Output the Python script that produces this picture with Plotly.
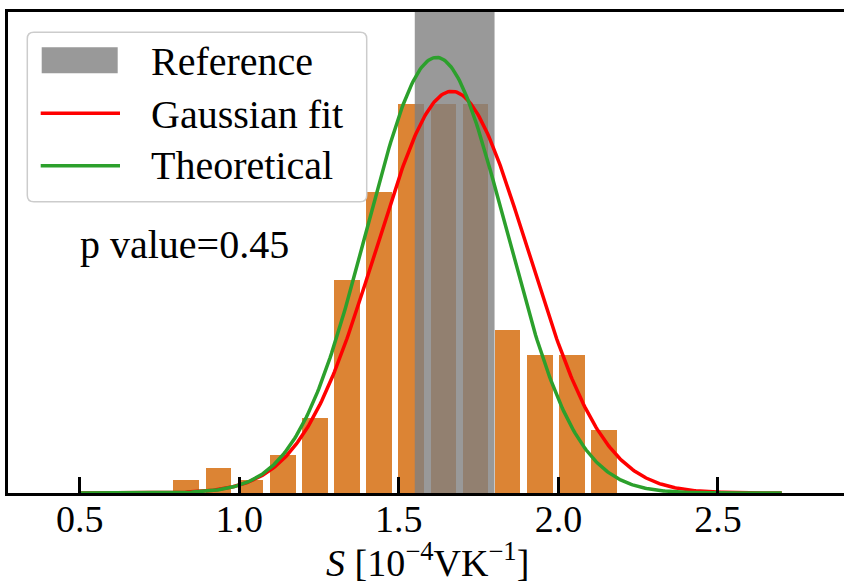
import numpy as np
import plotly.graph_objects as go

# ---- data ----
bin_centers = [0.834, 0.935, 1.035, 1.136, 1.237, 1.338, 1.438, 1.539,
               1.640, 1.740, 1.841, 1.942, 2.042, 2.143]
counts = [1, 2, 1, 3, 6, 17, 24, 31, 31, 31, 13, 11, 11, 5]
bin_width = 0.1007

ref_lo, ref_hi = 1.55, 1.80          # reference band

fit_mu, fit_sigma, fit_amp = 1.666, 0.2375, 32.0     # Gaussian fit
th_mu, th_sigma, th_amp = 1.618, 0.218, 34.7          # Theoretical
curve_lo, curve_hi = 0.5, 2.7

tick_vals = [0.5, 1.0, 1.5, 2.0, 2.5]
tick_text = ["0.5", "1.0", "1.5", "2.0", "2.5"]
p_text = "p value=0.45"
x_title = "<i>S</i> [10<sup>−4</sup>VK<sup>−1</sup>]"

x_range = [0.2754, 2.895]
y_max = 38.32

W, H = 844, 586
ML, MR, MT, MB = 8, 0, 12, 93
PW, PH = W - ML - MR, H - MT - MB

FONT = "Liberation Serif, Times New Roman, serif"
FS = 40
LW = 3.5


def px(x):
    return (x - ML) / PW


def py(y):
    return (H - MB - y) / PH


xs = np.linspace(curve_lo, curve_hi, 500)
fit_y = fit_amp * np.exp(-0.5 * ((xs - fit_mu) / fit_sigma) ** 2)
th_y = th_amp * np.exp(-0.5 * ((xs - th_mu) / th_sigma) ** 2)

fig = go.Figure()
fig.add_trace(go.Bar(x=bin_centers, y=counts, width=bin_width * 0.8,
                     marker=dict(color="#dc8434", line=dict(width=0)),
                     name="Data", showlegend=False))
fig.add_trace(go.Scatter(x=[ref_lo, ref_hi, ref_hi, ref_lo, ref_lo],
                         y=[0, 0, y_max, y_max, 0], mode="lines",
                         fill="toself", fillcolor="rgba(128,128,128,0.8)",
                         line=dict(width=0), name="Reference", showlegend=False))
fig.add_trace(go.Scatter(x=xs, y=fit_y, mode="lines",
                         line=dict(color="#ff0000", width=LW),
                         name="Gaussian fit", showlegend=False))
fig.add_trace(go.Scatter(x=xs, y=th_y, mode="lines",
                         line=dict(color="#2ca02c", width=LW),
                         name="Theoretical", showlegend=False))

# ---- legend drawn by hand (matplotlib look) ----
bx0, bx1, by0, by1, r = 27.3, 366.7, 32.3, 201.7, 6.5
path = (f"M {px(bx0 + r)},{py(by0)} L {px(bx1 - r)},{py(by0)} "
        f"Q {px(bx1)},{py(by0)} {px(bx1)},{py(by0 + r)} "
        f"L {px(bx1)},{py(by1 - r)} "
        f"Q {px(bx1)},{py(by1)} {px(bx1 - r)},{py(by1)} "
        f"L {px(bx0 + r)},{py(by1)} "
        f"Q {px(bx0)},{py(by1)} {px(bx0)},{py(by1 - r)} "
        f"L {px(bx0)},{py(by0 + r)} "
        f"Q {px(bx0)},{py(by0)} {px(bx0 + r)},{py(by0)} Z")
shapes = [
    dict(type="path", xref="paper", yref="paper", path=path,
         fillcolor="rgba(255,255,255,0.8)", line=dict(color="#cccccc", width=1.5),
         layer="above"),
    dict(type="rect", xref="paper", yref="paper", x0=px(41.7), x1=px(117.7),
         y0=py(73.3), y1=py(47.3), fillcolor="rgba(128,128,128,0.8)",
         line=dict(width=0), layer="above"),
    dict(type="line", xref="paper", yref="paper", x0=px(40.7), x1=px(120),
         y0=py(113.3), y1=py(113.3), line=dict(color="#ff0000", width=LW),
         layer="above"),
    dict(type="line", xref="paper", yref="paper", x0=px(40.7), x1=px(120),
         y0=py(165.7), y1=py(165.7), line=dict(color="#2ca02c", width=LW),
         layer="above"),
]

legend_labels = ["Reference", "Gaussian fit", "Theoretical"]
legend_base = [74.0, 127.3, 178.3]
annotations = []
for lab, b in zip(legend_labels, legend_base):
    annotations.append(dict(text=lab, xref="paper", yref="paper",
                            x=px(148.5), y=py(b - 12.5), xanchor="left",
                            yanchor="middle", showarrow=False,
                            font=dict(family=FONT, size=FS, color="black")))
annotations.append(dict(text=p_text, xref="paper", yref="paper",
                        x=px(78), y=py(256.7 - 12.5), xanchor="left",
                        yanchor="middle", showarrow=False,
                        font=dict(family=FONT, size=FS, color="black")))
# x-axis title, kept fully on the page
annotations.append(dict(text=x_title, xref="paper", yref="paper",
                        x=px(428), y=py(586), xanchor="center",
                        yanchor="bottom", showarrow=False,
                        font=dict(family=FONT, size=38, color="black")))

fig.update_layout(
    width=W, height=H,
    margin=dict(l=ML, r=MR, t=MT, b=MB),
    paper_bgcolor="white", plot_bgcolor="white",
    showlegend=False, bargap=0,
    shapes=shapes, annotations=annotations,
    font=dict(family=FONT, size=FS, color="black"),
)
fig.update_xaxes(range=x_range, tickvals=tick_vals, ticktext=tick_text,
                 ticks="inside", ticklen=16, tickwidth=2.5, tickcolor="black",
                 showline=True, linewidth=2.5, linecolor="black", mirror=True,
                 showgrid=False, zeroline=False, automargin=False,
                 ticklabelposition="outside", ticklabelstandoff=-9,
                 tickfont=dict(family=FONT, size=38, color="black"))
fig.update_yaxes(range=[0, y_max], showticklabels=False, ticks="",
                 showline=True, linewidth=2.5, linecolor="black", mirror=False,
                 showgrid=False, zeroline=False, automargin=False)

fig.write_html("out.html")
